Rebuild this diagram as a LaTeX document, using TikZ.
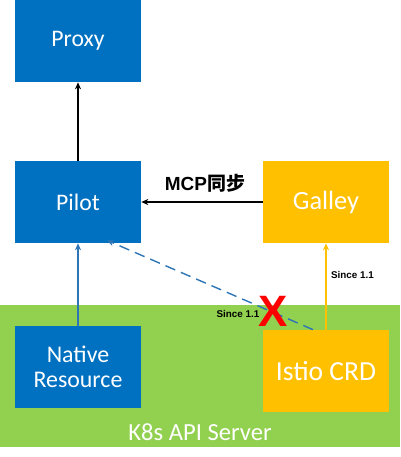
\documentclass[tikz,border=0pt]{standalone}
\usepackage{fontspec}
\setmainfont{Carlito}
\newfontfamily\labelfont{Liberation Sans}
\newfontfamily\cjkfont{Noto Sans CJK SC}
\usetikzlibrary{arrows.meta,positioning,calc}
\definecolor{IstioBlue}{HTML}{0070C0}
\definecolor{IstioYellow}{HTML}{FFC000}
\definecolor{IstioGreen}{HTML}{92D050}
\definecolor{LinkBlue}{HTML}{2E75B6}
\definecolor{CrossRed}{HTML}{FF0000}
\tikzset{
    % Base component box
    compnode/.style={
        draw=none,
        minimum height=1.64cm,
        minimum width=2.52cm,
        align=center,
        text=white,
        font=\fontsize{13.5}{14}\selectfont
    },
    % Blue component
    bluenode/.style={
        compnode,
        fill=IstioBlue
    },
    % Yellow component
    yellownode/.style={
        compnode,
        fill=IstioYellow
    },
    % Small bold annotation
    notelabel/.style={
        font=\labelfont\bfseries\fontsize{5.6}{6}\selectfont,
        inner sep=1pt
    },
    % Arrow styles
    myarrow/.style={
        -{Stealth[length=4pt,width=3.5pt]},
        line width=0.6pt
    }
}
\begin{document}
\begin{tikzpicture}[x=0.02cm, y=-0.02cm]
    \useasboundingbox (0,0) rectangle (400,457);
    % API server band
    \fill[IstioGreen] (0,305) rectangle (400,447);
    \node[text=white, font=\fontsize{14}{16}\selectfont] (apiserver) at (200,432) {K8s API Server};

    % components
    \node[bluenode] (proxy) at (78,41) {Proxy};
    \node[bluenode] (pilot) at (78,202) {Pilot};
    \node[yellownode, font=\fontsize{15}{16}\selectfont] (galley) at (326,202) {Galley};
    \node[bluenode, font=\fontsize{13.6}{14.2}\selectfont] (native) at (78,367) {Native\\Resource};
    \node[yellownode, font=\fontsize{15.7}{16}\selectfont] (crd) at (326,371) {Istio CRD};

    % connectors
    \draw[myarrow, black] (pilot) -- (proxy);
    \draw[myarrow, black] (galley) -- (pilot);
    \draw[myarrow, LinkBlue] (native) -- (pilot);
    \draw[myarrow, IstioYellow] (crd) -- (galley);
    \coordinate (crdtop) at ($(crd.north)+(-13,0)$);
    \coordinate (pilotfoot) at ($(pilot.south)+(29,-3)$);
    \draw[myarrow, LinkBlue, line width=0.8pt, dash pattern=on 6pt off 3.5pt] (crdtop) -- (pilotfoot);

    % labels
    \node[font=\labelfont\bfseries\fontsize{10.8}{12}\selectfont] (mcp) at (205,183) {MCP{\cjkfont\bfseries 同步}};
    \node[notelabel, anchor=west] (since1) at (329,275) {Since 1.1};
    \node[notelabel] (since2) at (238,314) {Since 1.1};
    \node[text=CrossRed, font=\labelfont\bfseries\fontsize{25}{26}\selectfont, inner sep=0pt] (cross) at (273,311) {X};
\end{tikzpicture}
\end{document}
